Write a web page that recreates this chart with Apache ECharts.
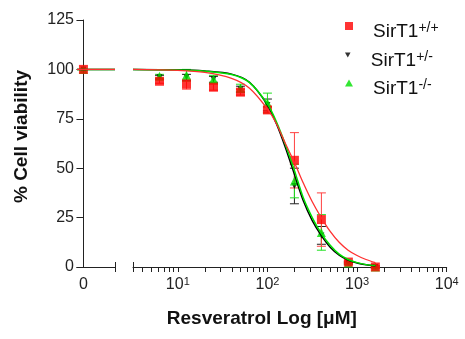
<!DOCTYPE html>
<html><head><meta charset="utf-8">
<script src="https://cdn.jsdelivr.net/npm/echarts@6/dist/echarts.min.js"></script>
<style>html,body{margin:0;padding:0;background:#fff}#c{width:465px;height:339px}</style>
</head><body><div id="c"></div>
<script>
// ---- data ----
const doses = [0, 6.25, 12.5, 25, 50, 100, 200, 400, 800, 1600];          // µM (0 = vehicle)
const wtMean  = [100, 94, 92.5, 91, 88.5, 79.5, 54, 24, 2.5, 0];           // SirT1+/+
const wtErr   = [0, 1, 2.5, 1.5, 1.5, 1.5, 14, 13.5, 0.5, 0.5];
const hetMean = [100, 96, 96, 95, 90, 82, 41, 16, 2, 0];                   // SirT1+/-
const hetErr  = [0, 1, 1.5, 1.5, 1.5, 3, 9, 4.5, 0.5, 0.5];
const koMean  = [100, 96.5, 97, 95, 90.5, 83, 43.5, 17.5, 2, 0];           // SirT1-/-
const koErr   = [0, 1, 3, 2, 2, 5, 8.5, 9, 0.5, 0.5];

// fitted curves
const fitConc = [3.162, 10, 20, 39.8, 63.1, 100, 125.9, 158.5, 199.5, 251.2, 316.2, 398.1, 501.2, 631, 794.3, 1000, 1258.9, 1600];
const wtFit   = [100, 99.5, 98.5, 95.5, 90.5, 80, 72.5, 62.5, 53, 42.5, 33, 25, 18, 12.5, 8.5, 5.8, 3.8, 2.2];
const hetFit  = [100, 99.8, 99.2, 97.6, 93.5, 82, 72.5, 60.5, 47, 33.5, 23.5, 16, 10, 6, 3.5, 2, 1.1, 0.6];
const koFit   = [100, 99.7, 99.1, 97.4, 93.3, 82.5, 73.5, 62, 49, 35, 25, 17, 11, 6.5, 3.8, 2.2, 1.2, 0.7];

const zeroSegment = [-0.5, 2.45];     // visible data range of the "0" axis segment
const logRange = [3.1623, 10000];     // log segment range
const yTicks = [0, 25, 50, 75, 100, 125];
const xMajorTicks = [10, 100, 1000, 10000];
const xMinorTicks = [4,5,6,7,8,9,20,30,40,50,60,70,80,90,200,300,400,500,600,700,800,900,2000,3000,4000,5000,6000,7000,8000,9000];
const groups = ['SirT1+/+', 'SirT1+/-', 'SirT1-/-'];

const FONT = 'Liberation Sans, Arial, Helvetica, sans-serif';
const AX = '#222';
const colors = {wt: '#ff0000', het: '#000000', ko: '#00e000'};
const downTri = 'path://M0,0 L10,0 L5,9 Z';

const chart = echarts.init(document.getElementById('c'), null, {renderer: 'canvas'});

function errSeries(means, errs, color) {
  return {
    type: 'custom', xAxisIndex: 1, yAxisIndex: 1, silent: true,
    data: doses.slice(1).map((d, i) => [d, means[i + 1], errs[i + 1]]),
    encode: {x: 0, y: 1},
    renderItem: function (params, api) {
      const x = api.value(0), y = api.value(1), e = api.value(2);
      const t = api.coord([x, y + e]);
      const b = api.coord([x, y - e]);
      const hw = 4.5;
      const st = {stroke: color, lineWidth: 1};
      return {type: 'group', children: [
        {type: 'line', shape: {x1: t[0], y1: t[1], x2: b[0], y2: b[1]}, style: st},
        {type: 'line', shape: {x1: t[0] - hw, y1: t[1], x2: t[0] + hw, y2: t[1]}, style: st},
        {type: 'line', shape: {x1: b[0] - hw, y1: b[1], x2: b[0] + hw, y2: b[1]}, style: st}
      ]};
    }
  };
}
function fitSeries(fit, color, w) {
  return {type: 'line', xAxisIndex: 1, yAxisIndex: 1, silent: true, symbol: 'none', smooth: 0.3,
    lineStyle: {color: color, width: w}, data: fitConc.map((c, i) => [c, fit[i]])};
}
function zeroLine(fit, color, w) {
  return {type: 'line', xAxisIndex: 0, yAxisIndex: 0, silent: true, symbol: 'none',
    lineStyle: {color: color, width: w}, data: zeroSegment.map(x => [x, fit[0]])};
}
function pointSeries(name, means, symbol, size, color) {
  return [
    {type: 'scatter', name: name, xAxisIndex: 1, yAxisIndex: 1, symbol: symbol, symbolSize: size,
      itemStyle: {color: color}, data: doses.slice(1).map((d, i) => [d, means[i + 1]])},
    {type: 'scatter', name: name, xAxisIndex: 0, yAxisIndex: 0, symbol: symbol, symbolSize: size,
      itemStyle: {color: color}, data: [[doses[0], means[0]]]}
  ];
}
function legendFor(name, icon, w, h, color, top) {
  const sup = name.slice(5);
  return {
    data: [{name: name, icon: icon, itemStyle: {color: color}}],
    left: 345, top: top, padding: 0, itemWidth: w, itemHeight: h, itemGap: 0,
    selectedMode: false,
    formatter: () => '{m|SirT1}{s|' + sup + '}',
    textStyle: {padding: [12, 0, 0, 15], rich: {
      m: {fontFamily: FONT, fontSize: 19, color: '#111', lineHeight: 22},
      s: {fontFamily: FONT, fontSize: 14, color: '#111', lineHeight: 14, verticalAlign: 'top'}
    }}
  };
}

const option = {
  animation: false,
  backgroundColor: '#fff',
  grid: [
    {left: 77, top: 20, width: 38, height: 247},
    {left: 133, top: 20, width: 313.7, height: 247}
  ],
  legend: [
    legendFor(groups[0], 'rect', 8, 8, colors.wt, 21),
    legendFor(groups[1], downTri, 6, 5, colors.het, 50),
    legendFor(groups[2], 'triangle', 8, 7, colors.ko, 78)
  ],
  xAxis: [
    {type: 'value', gridIndex: 0, min: zeroSegment[0], max: zeroSegment[1], position: 'bottom',
      axisLine: {show: true, lineStyle: {color: AX, width: 1}},
      axisTick: {show: true, customValues: [zeroSegment[1]], length: 5, lineStyle: {color: AX}},
      axisLabel: {show: true, customValues: [0], margin: 10, fontSize: 16, fontFamily: FONT, color: AX},
      splitLine: {show: false}},
    {type: 'log', gridIndex: 1, min: logRange[0], max: logRange[1], position: 'bottom',
      axisLine: {show: true, lineStyle: {color: AX, width: 1}},
      axisTick: {show: true, customValues: xMinorTicks.concat(xMajorTicks).sort((a, b) => a - b), length: 5, lineStyle: {color: AX}},
      axisLabel: {show: true, customValues: xMajorTicks, margin: 9,
        formatter: v => '{b|10}{s|' + Math.round(Math.log10(v)) + '}',
        rich: {b: {fontSize: 16, fontFamily: FONT, color: AX, lineHeight: 18},
               s: {fontSize: 11, fontFamily: FONT, color: AX, lineHeight: 11, verticalAlign: 'top'}}},
      splitLine: {show: false}, minorSplitLine: {show: false},
      name: 'Resveratrol Log [μM]', nameLocation: 'middle', nameGap: 42,
      nameTextStyle: {fontSize: 19, fontWeight: 'bold', fontFamily: FONT, color: '#111', padding: [0, 56, 0, 0]}}
  ],
  yAxis: [
    {type: 'value', gridIndex: 0, min: 0, max: 125, interval: 25,
      axisLine: {show: true, lineStyle: {color: AX, width: 1}},
      axisTick: {show: true, length: 7, lineStyle: {color: AX}},
      axisLabel: {margin: 3, fontSize: 16, fontFamily: FONT, color: AX},
      splitLine: {show: false},
      name: '% Cell viability', nameLocation: 'middle', nameGap: 46,
      nameTextStyle: {fontSize: 19, fontWeight: 'bold', fontFamily: FONT, color: '#111', padding: [0, 0, 0, 14]}},
    {type: 'value', gridIndex: 1, min: 0, max: 125, interval: 25, show: false}
  ],
  series: [
    zeroLine(hetFit, colors.het, 1.5),
    zeroLine(koFit, colors.ko, 1.5),
    zeroLine(wtFit, '#ff3030', 1.3),
    fitSeries(hetFit, colors.het, 1.5),
    fitSeries(koFit, colors.ko, 1.5),
    fitSeries(wtFit, '#ff3030', 1.3),
    errSeries(hetMean, hetErr, '#222'),
    errSeries(koMean, koErr, '#20e020'),
    errSeries(wtMean, wtErr, '#ff4040'),
    ...pointSeries(groups[1], hetMean, downTri, 6, colors.het),
    ...pointSeries(groups[2], koMean, 'triangle', 9, colors.ko),
    ...pointSeries(groups[0], wtMean, 'rect', 9, colors.wt)
  ]
};
chart.setOption(option);

// break caps at the segment ends (positions from the axes' own scales)
const capEnd = chart.convertToPixel({xAxisIndex: 0, yAxisIndex: 0}, [zeroSegment[1], 0]);
const capStart = chart.convertToPixel({xAxisIndex: 1, yAxisIndex: 1}, [logRange[0], 0]);
chart.setOption({graphic: [capEnd, capStart].map(p => ({
  type: 'line', shape: {x1: Math.round(p[0]) + 0.5, y1: p[1] - 5, x2: Math.round(p[0]) + 0.5, y2: p[1] + 5},
  style: {stroke: AX, lineWidth: 1}, silent: true
}))});
</script>
</body></html>
